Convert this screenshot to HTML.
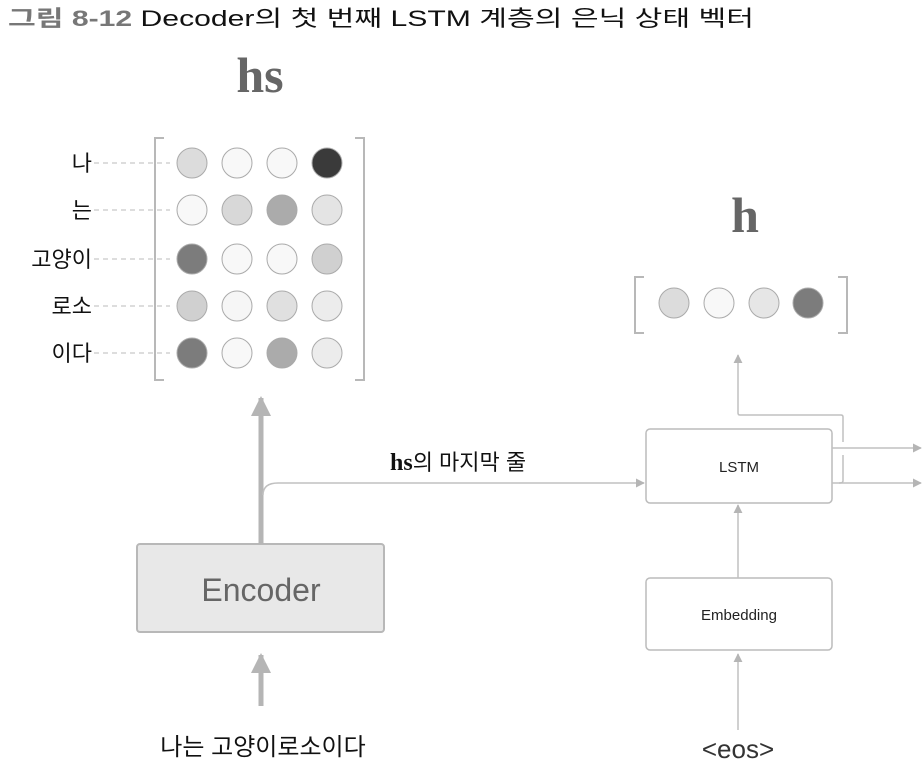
<!DOCTYPE html>
<html><head><meta charset="utf-8"><style>
body{margin:0;background:#fff;width:922px;height:766px;overflow:hidden}
svg{display:block}
.k{font-family:"Liberation Sans","Noto Sans CJK KR",sans-serif}
</style></head><body>
<svg width="922" height="766" viewBox="0 0 922 766" xmlns="http://www.w3.org/2000/svg">
<defs>
<marker id="a" viewBox="0 0 10 10" refX="9" refY="5" markerWidth="9" markerHeight="9" markerUnits="userSpaceOnUse" orient="auto"><path d="M0,0L10,5L0,10z" fill="#b5b5b5"/></marker>
<marker id="b" viewBox="0 0 10 10" refX="9" refY="5" markerWidth="20" markerHeight="20" markerUnits="userSpaceOnUse" orient="auto"><path d="M0,0L10,5L0,10z" fill="#b5b5b5"/></marker>
</defs>
<text x="8" y="26" class="k" font-size="22" textLength="746" lengthAdjust="spacingAndGlyphs"><tspan fill="#777" font-weight="bold">그림 8-12 </tspan><tspan fill="#111"> Decoder의 첫 번째 LSTM 계층의 은닉 상태 벡터</tspan></text>
<text x="260" y="92" text-anchor="middle" font-family="Liberation Serif,serif" font-weight="bold" font-size="50" fill="#666">hs</text>
<text x="745" y="232" text-anchor="middle" font-family="Liberation Serif,serif" font-weight="bold" font-size="50" fill="#666">h</text>

<g fill="none" stroke="#b8b8b8" stroke-width="2">
<path d="M164,138H155V380H164M355,138H364V380H355"/>
<path d="M644,277H635V333H644M838,277H847V333H838"/>
</g>
<g class="k" font-size="22" fill="#111" text-anchor="end">
<text x="92" y="171">나</text><text x="92" y="218">는</text><text x="92" y="267">고양이</text><text x="92" y="314">로소</text><text x="92" y="361">이다</text>
</g>
<g stroke="#bbb" stroke-dasharray="5,4" stroke-width="1">
<path d="M94,163H170M94,210H170M94,259H170M94,306H170M94,353H170"/>
</g>
<g stroke="#aaa" stroke-width="1">
<circle cx="192" cy="163" r="15" fill="#dcdcdc"/><circle cx="237" cy="163" r="15" fill="#f8f8f8"/><circle cx="282" cy="163" r="15" fill="#f8f8f8"/><circle cx="327" cy="163" r="15" fill="#3a3a3a"/>
<circle cx="192" cy="210" r="15" fill="#f8f8f8"/><circle cx="237" cy="210" r="15" fill="#d8d8d8"/><circle cx="282" cy="210" r="15" fill="#ababab"/><circle cx="327" cy="210" r="15" fill="#e4e4e4"/>
<circle cx="192" cy="259" r="15" fill="#7c7c7c"/><circle cx="237" cy="259" r="15" fill="#f8f8f8"/><circle cx="282" cy="259" r="15" fill="#f8f8f8"/><circle cx="327" cy="259" r="15" fill="#d0d0d0"/>
<circle cx="192" cy="306" r="15" fill="#d0d0d0"/><circle cx="237" cy="306" r="15" fill="#f6f6f6"/><circle cx="282" cy="306" r="15" fill="#e0e0e0"/><circle cx="327" cy="306" r="15" fill="#ececec"/>
<circle cx="192" cy="353" r="15" fill="#7c7c7c"/><circle cx="237" cy="353" r="15" fill="#f8f8f8"/><circle cx="282" cy="353" r="15" fill="#ababab"/><circle cx="327" cy="353" r="15" fill="#ececec"/>
<circle cx="674" cy="303" r="15" fill="#dcdcdc"/><circle cx="719" cy="303" r="15" fill="#f8f8f8"/><circle cx="764" cy="303" r="15" fill="#e6e6e6"/><circle cx="808" cy="303" r="15" fill="#7c7c7c"/>
</g>

<rect x="137" y="544" width="247" height="88" rx="3" fill="#e8e8e8" stroke="#b8b8b8" stroke-width="2"/>
<text x="261" y="601" text-anchor="middle" class="k" font-size="32" fill="#666">Encoder</text>
<path d="M261,544V398" stroke="#b5b5b5" stroke-width="5" fill="none" marker-end="url(#b)"/>
<path d="M261,706V655" stroke="#b5b5b5" stroke-width="5" fill="none" marker-end="url(#b)"/>
<path d="M263,495Q263,483 278,483H644" stroke="#c0c0c0" stroke-width="1.5" fill="none" marker-end="url(#a)"/>
<text x="390" y="470" font-size="24" fill="#111"><tspan font-family="Liberation Serif,serif" font-weight="bold">hs</tspan><tspan class="k" font-size="22">의 마지막 줄</tspan></text>

<rect x="646" y="429" width="186" height="74" rx="4" fill="#fff" stroke="#bcbcbc" stroke-width="1.5"/>
<text x="739" y="472" text-anchor="middle" class="k" font-size="15" fill="#222">LSTM</text>
<rect x="646" y="578" width="186" height="72" rx="4" fill="#fff" stroke="#bcbcbc" stroke-width="1.5"/>
<text x="739" y="620" text-anchor="middle" class="k" font-size="15" fill="#222">Embedding</text>
<g stroke="#c0c0c0" stroke-width="1.5" fill="none">
<path d="M832,448H921" marker-end="url(#a)"/>
<path d="M832,483H921" marker-end="url(#a)"/>
<path d="M843,442V417Q843,415 841,415H740Q738,415 738,413V355" marker-end="url(#a)"/>
<path d="M843,455V481Q843,483 839,483"/>
<path d="M738,578V505" marker-end="url(#a)"/>
<path d="M738,730V654" marker-end="url(#a)"/>
</g>
<text x="263" y="755" text-anchor="middle" class="k" font-size="24" fill="#111">나는 고양이로소이다</text>
<text x="738" y="758" text-anchor="middle" class="k" font-size="26" fill="#333">&lt;eos&gt;</text>
</svg>
</body></html>
